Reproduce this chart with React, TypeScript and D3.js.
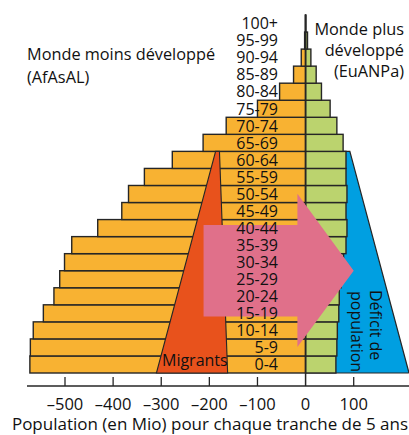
import React from "react";
import * as d3 from "d3";

const ageGroups = ["0-4","5-9","10-14","15-19","20-24","25-29","30-34","35-39","40-44","45-49","50-54","55-59","60-64","65-69","70-74","75-79","80-84","85-89","90-94","95-99","100+"];
const lessDeveloped = [573, 572, 566, 545, 523, 511, 501, 486, 432, 382, 368, 335, 277, 213, 165, 100, 54, 25, 9, 2, 0.5];
const moreDeveloped = [63, 65, 66, 69, 70, 74, 79, 84, 86, 84, 86, 84, 84, 78, 65, 51, 33, 22, 11, 4, 0.5];
const xTicks = [-500, -400, -300, -200, -100, 0, 100];
const tickLabels = ["\u2013500", "\u2013400", "\u2013300", "\u2013200", "\u2013100", "0", "100"];
// Migrants shape: [value, age]
const migrantsShape: [number, number][] = [[-187, 65], [-179, 65], [-162, 0], [-310, 0]];
// Deficit shape: [value, age]
const deficitShape: [number, number][] = [[0, 65], [92, 65], [215, 0], [0, 0]];
// Arrow: [value, age]
const arrowShape: [number, number][] = [[-212, 43.4], [-17, 43.4], [-17, 52.6], [100, 30], [-17, 7.6], [-17, 16.6], [-212, 16.6]];

const FONT = "'Open Sans', sans-serif";

export default function App() {
  const W = 409, H = 435;
  const x = d3.scaleLinear().domain([-500, 100]).range([65, 353.7]);
  const yAge = d3.scaleLinear().domain([0, 105]).range([373, 15]);
  const y = d3.scaleBand().domain(ageGroups).range([373, 15]).padding(0);
  const line = d3.line<[number, number]>().x(d => x(d[0])).y(d => yAge(d[1]));
  const x0 = x(0);
  const bw = y.bandwidth();
  const stroke = "#262626";
  return (
    <svg width={W} height={H} style={{ position: "absolute", left: 0, top: 0 }} fontFamily={FONT}>
      <rect width={W} height={H} fill="#fff" />
      <path d={line(deficitShape) + "Z"} fill="#009FE1" stroke={stroke} strokeWidth={1.2} />
      {ageGroups.map((g, i) => (
        <rect key={"l" + g} x={x(-lessDeveloped[i])} y={y(g)!} width={x0 - x(-lessDeveloped[i])} height={bw}
          fill="#F8B232" stroke={stroke} strokeWidth={1.4} />
      ))}
      {ageGroups.map((g, i) => (
        <rect key={"r" + g} x={x0} y={y(g)!} width={x(moreDeveloped[i]) - x0} height={bw}
          fill="#BBD36E" stroke={stroke} strokeWidth={1.4} />
      ))}
      <path d={line(migrantsShape) + "Z"} fill="#E8521C" stroke={stroke} strokeWidth={1.1} />
      <line x1={x0} x2={x0} y1={yAge(105)} y2={386} stroke={stroke} strokeWidth={1.5} />
      <path d={line(arrowShape) + "Z"} fill="#E0708A" />
      {ageGroups.map((g) => (
        <text key={"t" + g} x={278} y={y(g)! + bw / 2} dy="0.36em" textAnchor="end" fontSize={16} fill="#111">{g}</text>
      ))}
      <text x={162} y={366} fontSize={16} fill="#111">Migrants</text>
      <text transform="translate(370,290) rotate(90)" fontSize={16} fill="#111">Déficit de</text>
      <text transform="translate(350.5,291) rotate(90)" fontSize={16} fill="#111">population</text>
      <line x1={27} x2={409} y1={386} y2={386} stroke={stroke} strokeWidth={1.5} />
      {xTicks.map((t, i) => (
        <g key={"k" + t}>
          {t !== 0 && <line x1={x(t)} x2={x(t)} y1={377} y2={386} stroke={stroke} strokeWidth={1.3} />}
          <text x={x(t)} y={410} textAnchor="middle" fontSize={16.5} fill="#111">{tickLabels[i]}</text>
        </g>
      ))}
      <text x={210} y={430} textAnchor="middle" fontSize={17} fill="#111">Population (en Mio) pour chaque tranche de 5 ans</text>
      <text x={27} y={60} fontSize={16.3} fill="#111">Monde moins développé</text>
      <text x={27} y={83} fontSize={16.3} fill="#111">(AfAsAL)</text>
      <text x={404} y={35} textAnchor="end" fontSize={16.3} fill="#111">Monde plus</text>
      <text x={404} y={56} textAnchor="end" fontSize={16.3} fill="#111">développé</text>
      <text x={404} y={77} textAnchor="end" fontSize={16.3} fill="#111">(EuANPa)</text>
    </svg>
  );
}
